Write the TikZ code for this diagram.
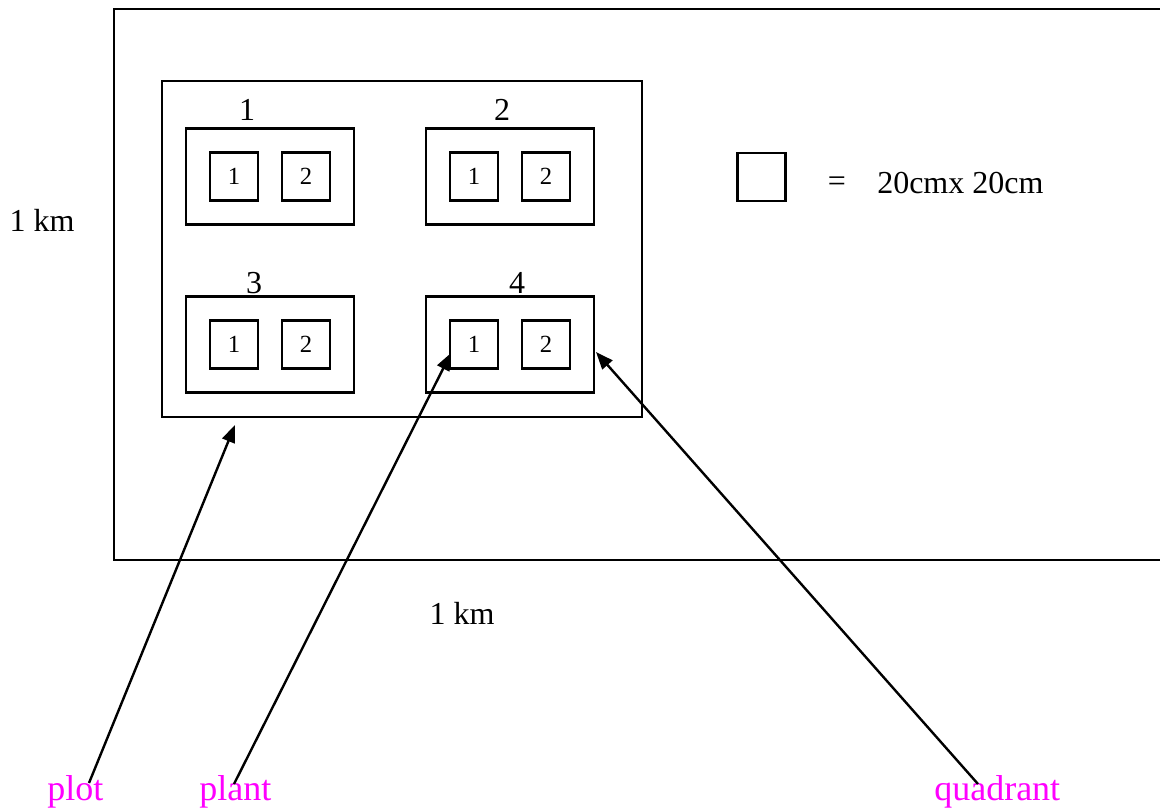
\documentclass[tikz,border=0pt]{standalone}
\usepackage{fontspec}
\setmainfont{Liberation Serif}
\usetikzlibrary{arrows.meta}
\definecolor{labelpink}{RGB}{255,0,255}
\tikzset{
  frame/.style={line width=2pt},
  quadbox/.style={draw, line width=1.9pt, minimum width=126pt, minimum height=72pt, inner sep=0pt},
  plantbox/.style={draw, line width=1.8pt, minimum width=36pt, minimum height=36pt, inner sep=0pt,
                   font=\fontsize{18.5}{20}\selectfont},
  biglabel/.style={font=\fontsize{24}{28}\selectfont, inner sep=0pt},
  pinklabel/.style={text=labelpink, font=\fontsize{27}{30}\selectfont, inner sep=0pt, anchor=base west},
  pointer/.style={line width=1.8pt, -{Triangle[length=13pt,width=10pt]}}
}
\begin{document}
\begin{tikzpicture}[x=0.75pt,y=-0.75pt]
\useasboundingbox (0,0) rectangle (1160,807);
\clip (0,0) rectangle (1160,807);

% field boundary (1 km x 1 km), open to the right
\draw[frame] (1170,9) -- (114,9) -- (114,80);
\draw[line width=1.1pt] (114,80) -- (114,393);
\draw[frame] (114,393) -- (114,560) -- (1170,560);

% plot
\node[draw, line width=1.9pt, minimum width=360pt, minimum height=252pt, inner sep=0pt] (plot) at (402,249) {};

% quadrants with their plants
\foreach \q/\cx/\cy/\lx/\ly in {1/270/176.5/247/110, 2/510/176.5/502/110, 3/270/344.5/254/283, 4/510/344.5/517/283}{
  \node[quadbox] (q\q) at (\cx,\cy) {};
  \node[biglabel] (ql\q) at (\lx,\ly) {\q};
  \node[plantbox] (q\q p1) at (\cx-36,\cy) {1};
  \node[plantbox] (q\q p2) at (\cx+36,\cy) {2};
}

% legend
\node[draw, line width=1.8pt, minimum width=36pt, minimum height=36pt, inner sep=0pt] (legend) at (761.5,177) {};
\node[biglabel] (eq) at (837,184) {=};
\node[biglabel, anchor=base west] (size) at (877,193) {20cmx 20cm};

% dimensions
\node[biglabel] (side) at (42,220) {1 km};
\node[biglabel] (base) at (462,613) {1 km};

% labels
\node[pinklabel] (lplot) at (47,800) {plot};
\node[pinklabel] (lplant) at (199,800) {plant};
\node[pinklabel] (lquad) at (934,800) {quadrant};

\coordinate (plotfoot) at (89,783);
\coordinate (plantfoot) at (234,784);
\coordinate (quadfoot) at (978,784);
\coordinate (plottip) at (235,425);
\coordinate (planttip) at (451,353);
\coordinate (quadtip) at (596,352);

\draw[pointer] (plotfoot) -- (plottip);
\draw[pointer] (plantfoot) -- (planttip);
\draw[pointer] (quadfoot) -- (quadtip);
\end{tikzpicture}
\end{document}
